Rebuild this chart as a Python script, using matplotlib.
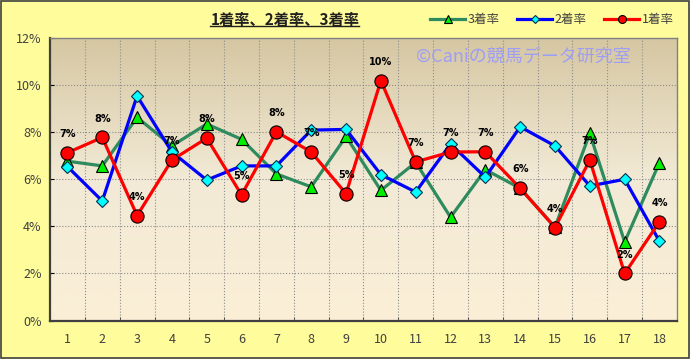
import numpy as np
import matplotlib
matplotlib.use("Agg")
from matplotlib import pyplot as plt
from matplotlib.patches import Rectangle
from matplotlib.lines import Line2D
from matplotlib.colors import LinearSegmentedColormap

plt.rcParams['font.family'] = ['Noto Sans CJK JP', 'DejaVu Sans']

# data ------------------------------------------------------------------
umaban = list(range(1, 19))
win_rate = [7.13, 7.78, 4.46, 6.82, 7.75, 5.34, 8.02, 7.16, 5.39,
            10.19, 6.74, 7.16, 7.17, 5.62, 3.95, 6.82, 2.00, 4.20]      # 1着率
second_rate = [6.54, 5.08, 9.54, 7.16, 5.97, 6.57, 6.57, 8.09, 8.12,
               6.20, 5.46, 7.50, 6.09, 8.23, 7.42, 5.72, 6.00, 3.37]   # 2着率
third_rate = [6.77, 6.57, 8.63, 7.42, 8.35, 7.70, 6.23, 5.68, 7.82,
              5.53, 6.72, 4.39, 6.41, 5.62, 3.97, 7.95, 3.34, 6.71]    # 3着率
y_ticks = [0, 2, 4, 6, 8, 10, 12]

# figure ----------------------------------------------------------------
fig = plt.figure(figsize=(6.9, 3.59), dpi=100, facecolor='#FFFC9C')
fig.patches.append(Rectangle((0.001, 0.002), 0.997, 0.995, transform=fig.transFigure,
                             fill=False, edgecolor='#404040', linewidth=1.2))
ax = fig.add_axes([0.0725, 0.107, 0.9085, 0.787])

# gradient background in the plot area
cmap = LinearSegmentedColormap.from_list('bg', ['#FBEFD6', '#F2EAD6', '#D6C7A2'])
grad = np.linspace(0, 1, 256).reshape(-1, 1)
ax.imshow(grad, extent=[0.5, 18.5, 0, 12], origin='lower', aspect='auto',
          cmap=cmap, zorder=0)

# grid
for xb in np.arange(1.5, 18.5, 1):
    ax.axvline(xb, color='#8C8C8C', linestyle=':', linewidth=0.8, zorder=1)
for yv in y_ticks[1:-1]:
    ax.axhline(yv, color='#8C8C8C', linestyle=':', linewidth=0.8, zorder=1)

# series
ax.plot(umaban, third_rate, color='#2E8B5E', linewidth=2.3, marker='^', markersize=8.5,
        markerfacecolor='#00EE00', markeredgecolor='#000000', markeredgewidth=0.8,
        label='3着率', zorder=3)
ax.plot(umaban, second_rate, color='#0000FF', linewidth=2.3, marker='D', markersize=6.5,
        markerfacecolor='#00FFFF', markeredgecolor='#003050', markeredgewidth=0.8,
        label='2着率', zorder=4)
ax.plot(umaban, win_rate, color='#FF0000', linewidth=2.3, marker='o', markersize=9.5,
        markerfacecolor='#FF0000', markeredgecolor='#000000', markeredgewidth=0.8,
        label='1着率', zorder=5)

# labels on 1着率
for x, v in zip(umaban, win_rate):
    ax.annotate('%d%%' % round(v), (x, v), xytext=(0, 10), textcoords='offset points',
                ha='center', va='bottom', fontsize=7, fontweight='bold',
                family='DejaVu Sans', color='#000000', zorder=6)

ax.set_xlim(0.5, 18.5)
ax.set_ylim(0, 12)
ax.set_xticks(umaban)
ax.set_xticklabels([str(u) for u in umaban])
ax.set_xticks(np.arange(0.5, 19, 1), minor=True)
ax.set_yticks(y_ticks)
ax.set_yticklabels(['%d%%' % t for t in y_ticks])
ax.tick_params(axis='x', which='major', length=0, pad=9, labelsize=9, labelcolor='#404040')
ax.tick_params(axis='x', which='minor', length=3, direction='in', color='#404040')
ax.tick_params(axis='y', length=3, direction='in', pad=6, labelsize=9, labelcolor='#404040')
for s in ['left', 'bottom']:
    ax.spines[s].set_color('#404040')
    ax.spines[s].set_linewidth(1.6)
for s in ['top', 'right']:
    ax.spines[s].set_color('#808080')
    ax.spines[s].set_linewidth(1.0)

# watermark
ax.text(0.755, 0.935, '©Caniの競馬データ研究室', transform=ax.transAxes, ha='center',
        va='center', fontsize=13, color='#9E9EF5', zorder=2)

# title with underline
title = fig.text(0.413, 0.945, '1着率、2着率、3着率', ha='center', va='center',
                 fontsize=11, fontweight='bold', color='#202020')
fig.canvas.draw()
bb = title.get_window_extent().transformed(fig.transFigure.inverted())
fig.lines.append(Line2D([bb.x0, bb.x1], [bb.y0 + 0.004, bb.y0 + 0.004],
                        transform=fig.transFigure, color='#202020', linewidth=1.0))

# legend
leg = fig.legend(loc='center', bbox_to_anchor=(0.8, 0.945), ncol=3, frameon=False,
                 fontsize=9, handlelength=2.8, columnspacing=1.4, handletextpad=0.2,
                 markerscale=0.6)
for t in leg.get_texts():
    t.set_color('#404040')

fig.savefig('out.png', dpi=100, facecolor=fig.get_facecolor())
